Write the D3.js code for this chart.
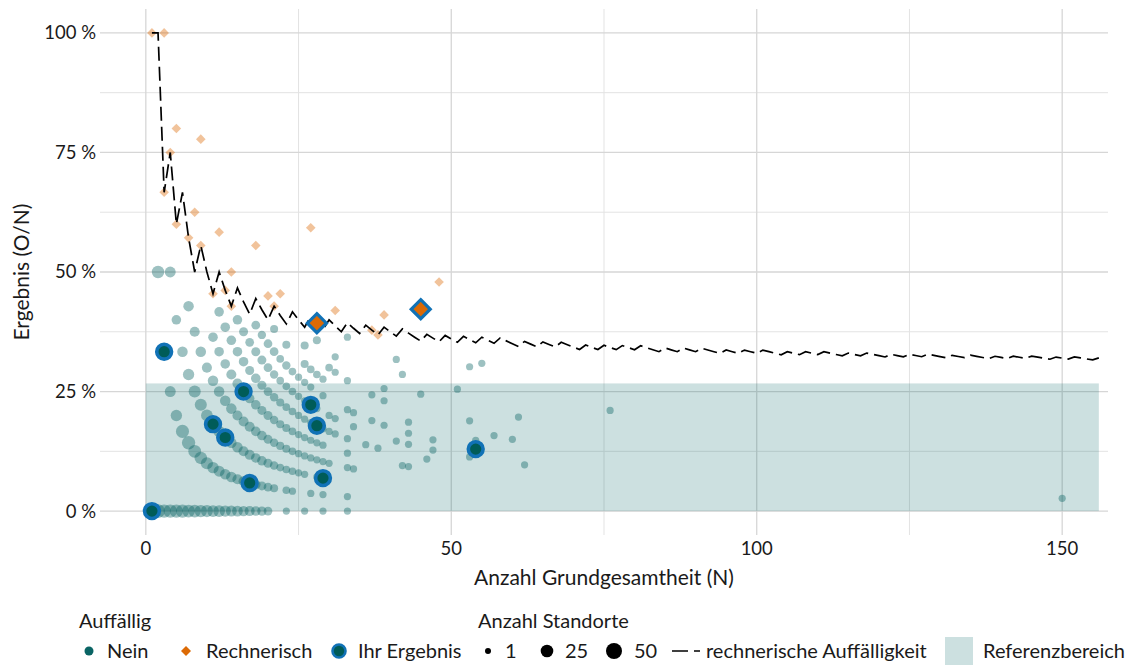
<!DOCTYPE html>
<html><head><meta charset="utf-8">
<script src="https://cdn.jsdelivr.net/npm/d3@7"></script>
<style>
html,body{margin:0;padding:0;background:#fff;}
text{font-family:Lato,"Open Sans",sans-serif;fill:#1a1a1a;}
</style></head>
<body>
<svg id="chart" width="1134" height="669"></svg>
<script>
// ---------------- DATA ----------------
// Nein (not conspicuous): [N, O, number of sites]
const neinPoints = [
 [1,0,45],
 [2,0,32],[2,1,24],
 [3,0,30],[3,1,25],
 [4,0,30],[4,1,16],[4,2,16],
 [5,0,28],[5,1,18],[5,2,10],
 [6,0,28],[6,1,28],[6,2,14],
 [7,0,26],[7,1,30],[7,2,18],[7,3,14],
 [8,0,25],[8,1,26],[8,2,22],[8,3,12],
 [9,0,24],[9,1,24],[9,2,22],[9,3,14],
 [10,0,22],[10,1,22],[10,2,20],[10,3,12],
 [11,0,20],[11,1,18],[11,2,18],[11,3,14],[11,4,10],
 [12,0,20],[12,1,16],[12,2,18],[12,3,14],[12,4,10],[12,5,10],
 [13,0,18],[13,1,14],[13,2,16],[13,3,14],[13,4,10],[13,5,10],
 [14,0,16],[14,1,14],[14,2,14],[14,3,14],[14,4,12],[14,5,10],
 [15,0,15],[15,1,12],[15,2,14],[15,3,12],[15,4,12],[15,5,10],[15,6,10],
 [16,0,13],[16,1,12],[16,2,12],[16,3,12],[16,4,12],[16,5,10],[16,6,8],
 [17,0,12],[17,1,10],[17,2,12],[17,3,12],[17,4,10],[17,5,8],[17,6,7],
 [18,0,10],[18,1,10],[18,2,10],[18,3,10],[18,4,10],[18,5,10],[18,6,8],[18,7,7],
 [19,0,9],[19,1,8],[19,2,10],[19,3,10],[19,4,8],[19,5,8],[19,6,8],[19,7,6],
 [20,0,7],[20,1,7],[20,2,8],[20,3,8],[20,4,8],[20,5,7],[20,6,7],[20,7,7],
 [21,1,5],[21,2,6],[21,3,6],[21,4,6],[21,5,6],[21,6,6],[21,7,7],[21,8,5],
 [22,2,4],[22,3,5],[22,4,5],[22,5,5],[22,6,4],[22,7,4],
 [23,0,3],[23,1,4],[23,2,4],[23,3,5],[23,4,5],[23,5,4],[23,6,4],[23,7,6],[23,8,5],
 [24,1,3],[24,2,4],[24,3,4],[24,4,4],[24,5,4],[24,6,4],[24,7,4],
 [25,2,3],[25,3,3],[25,4,3],[25,5,3],[25,6,3],[25,7,3],
 [26,0,3],[26,2,3],[26,3,3],[26,4,3],[26,5,3],[26,6,3],[26,7,3],[26,8,5],[26,9,5],
 [27,1,3],[27,3,3],[27,4,3],[27,5,3],[27,6,3],[27,7,3],[27,8,4],
 [28,2,3],[28,3,3],[28,4,3],[28,5,3],[28,6,3],[28,8,4],[28,10,5],
 [29,0,3],[29,1,3],[29,2,3],[29,3,3],[29,4,3],[29,5,3],[29,7,3],[29,8,3],
 [30,3,3],[30,5,3],[30,6,3],[30,9,4],
 [31,5,3],[31,6,3],[31,9,3],[31,10,3],
 [33,0,3],[33,1,3],[33,3,3],[33,4,3],[33,5,3],[33,7,3],[33,9,3],[33,12,3],
 [34,3,3],[34,6,3],[34,7,3],
 [36,5,3],[37,7,3],[37,9,3],[38,5,3],
 [39,7,3],[39,9,3],[39,10,3],
 [41,6,3],[41,13,3],[42,4,3],[42,12,3],
 [43,4,3],[43,6,3],[43,7,3],[43,8,3],
 [45,11,3],[46,5,3],[47,6,3],[47,7,3],
 [51,13,3],[53,6,3],[53,10,3],[53,16,3],[54,7,3],[54,8,3],[55,17,3],
 [57,9,3],[60,9,3],[61,12,3],[62,6,3],[76,16,3],[150,4,3]
];
// Rechnerisch (computationally conspicuous): [N, O]
const rechnerischPoints = [
 [1,1],[3,3],[3,2],[4,3],[5,4],[5,3],[7,4],[8,5],[9,7],[9,5],[11,5],[12,7],
 [13,6],[14,7],[14,6],[18,10],[20,9],[21,9],[22,10],[27,16],[31,13],[37,14],
 [38,14],[39,16],[48,23]
];
// Ihr Ergebnis (own results): [N, O, type]
const ownPoints = [
 [1,0,"Nein"],[3,1,"Nein"],[11,2,"Nein"],[13,2,"Nein"],[16,4,"Nein"],[17,1,"Nein"],
 [27,6,"Nein"],[28,5,"Nein"],[29,2,"Nein"],[54,7,"Nein"],
 [28,11,"Rechnerisch"],[45,19,"Rechnerisch"]
];
// Threshold line (rechnerische Auffälligkeit): N and minimal O
const lineN = d3.range(1,157);
const lineO = [1,2,2,3,3,4,4,4,5,5,5,6,6,6,7,7,7,8,8,8,9,9,9,10,10,10,11,11,11,12,12,12,13,13,13,14,14,14,15,15,15,16,16,16,16,17,17,17,18,18,18,19,19,19,20,20,20,21,21,21,21,22,22,22,23,23,23,24,24,24,24,25,25,25,26,26,26,27,27,27,28,28,28,28,29,29,29,30,30,30,31,31,31,31,32,32,32,33,33,33,34,34,34,34,35,35,35,36,36,36,37,37,37,37,38,38,38,39,39,39,39,40,40,40,41,41,41,42,42,42,42,43,43,43,44,44,44,44,45,45,45,46,46,46,47,47,47,47,48,48,48,49,49,49,49,50];
// Reference range
const refRange = {nMin:0, nMax:156, lower:0, upper:0.267};
const xTicks = [0,50,100,150];
const yTicks = [0,0.25,0.5,0.75,1];
const xMinor = [25,75,125];
const yMinor = [0.125,0.375,0.625,0.875];
const sizeLegendValues = [1,25,50];

// ---------------- STYLE ----------------
const teal = "#0a6464", tealDark = "#005c58", orange = "#dc6a05", blue = "#1172b6";
const L=100,R=1108,T=9,B=535;
const svg = d3.select("#chart");
const x = d3.scaleLinear().domain([-7.5,157.5]).range([L,R]);
const y = d3.scaleLinear().domain([-0.05,1.05]).range([B,T]);
const size = d3.scaleSqrt().domain([1,50]).range([3,8]);

// grid
const g = svg.append("g");
g.selectAll(".ym").data(yMinor).join("line").attr("x1",L).attr("x2",R)
 .attr("y1",d=>y(d)).attr("y2",d=>y(d)).attr("stroke","#e3e3e3").attr("stroke-width",1);
g.selectAll(".xm").data(xMinor).join("line").attr("y1",T).attr("y2",B)
 .attr("x1",d=>x(d)).attr("x2",d=>x(d)).attr("stroke","#e3e3e3").attr("stroke-width",1);
g.selectAll(".yM").data(yTicks).join("line").attr("x1",L).attr("x2",R)
 .attr("y1",d=>y(d)).attr("y2",d=>y(d)).attr("stroke","#d6d6d6").attr("stroke-width",1.3);
g.selectAll(".xM").data(xTicks).join("line").attr("y1",T).attr("y2",B)
 .attr("x1",d=>x(d)).attr("x2",d=>x(d)).attr("stroke","#d6d6d6").attr("stroke-width",1.3);

// reference band
svg.append("rect").attr("x",x(refRange.nMin)).attr("width",x(refRange.nMax)-x(refRange.nMin))
 .attr("y",y(refRange.upper)).attr("height",y(refRange.lower)-y(refRange.upper))
 .attr("fill","#006666").attr("fill-opacity",0.2);

// nein points
svg.append("g").selectAll("circle").data(neinPoints).join("circle")
 .attr("cx",d=>x(d[0])).attr("cy",d=>y(d[1]/d[0])).attr("r",d=>size(d[2]))
 .attr("fill",teal).attr("fill-opacity",0.4);

// rechnerisch diamonds
const diamond = (s)=>`M0,${-s}L${s},0L0,${s}L${-s},0Z`;
svg.append("g").selectAll("path").data(rechnerischPoints).join("path")
 .attr("transform",d=>`translate(${x(d[0])},${y(d[1]/d[0])})`)
 .attr("d",diamond(4.8)).attr("fill",orange).attr("fill-opacity",0.4);

// threshold line
const lineData = lineN.map((n,i)=>[n,lineO[i]/n]);
svg.append("path").datum(lineData)
 .attr("d",d3.line().x(d=>x(d[0])).y(d=>y(d[1])))
 .attr("fill","none").attr("stroke","#000").attr("stroke-width",1.7)
 .attr("stroke-dasharray","14,6");

// own results
const own = svg.append("g");
own.selectAll("circle").data(ownPoints.filter(d=>d[2]==="Nein")).join("circle")
 .attr("cx",d=>x(d[0])).attr("cy",d=>y(d[1]/d[0])).attr("r",7.4)
 .attr("fill",tealDark).attr("stroke",blue).attr("stroke-width",3.6);
own.selectAll("path").data(ownPoints.filter(d=>d[2]==="Rechnerisch")).join("path")
 .attr("transform",d=>`translate(${x(d[0])},${y(d[1]/d[0])})`)
 .attr("d",diamond(9.5)).attr("fill",orange).attr("stroke",blue).attr("stroke-width",3.2)
 .attr("stroke-linejoin","miter");

// axes labels
svg.append("g").selectAll("text").data(yTicks).join("text")
 .attr("x",96).attr("y",d=>y(d)).attr("dy","0.35em").attr("text-anchor","end")
 .style("font-size","18.5px").text(d=>`${Math.round(d*100)} %`);
svg.append("g").selectAll("text").data(xTicks).join("text")
 .attr("x",d=>x(d)).attr("y",555).attr("text-anchor","middle")
 .style("font-size","18.5px").text(d=>d);
svg.append("text").attr("x",(L+R)/2).attr("y",585).attr("text-anchor","middle")
 .style("font-size","21px").text("Anzahl Grundgesamtheit (N)");
svg.append("text").attr("transform",`translate(29,${(T+B)/2}) rotate(-90)`)
 .attr("text-anchor","middle").style("font-size","21px").text("Ergebnis (O/N)");

// legend
const lg = svg.append("g");
const ly = 651, fs = "20px";
lg.append("text").attr("x",79).attr("y",628).style("font-size",fs).text("Auffällig");
lg.append("text").attr("x",478).attr("y",628).style("font-size",fs).text("Anzahl Standorte");
lg.append("circle").attr("cx",89).attr("cy",ly).attr("r",4.5).attr("fill",teal);
lg.append("text").attr("x",107).attr("y",ly).attr("dy","0.35em").style("font-size",fs).text("Nein");
lg.append("path").attr("transform",`translate(186,${ly})`).attr("d",diamond(5)).attr("fill",orange);
lg.append("text").attr("x",206).attr("y",ly).attr("dy","0.35em").style("font-size",fs).text("Rechnerisch");
lg.append("circle").attr("cx",339).attr("cy",ly).attr("r",6.5).attr("fill",tealDark).attr("stroke",blue).attr("stroke-width",2.6);
lg.append("text").attr("x",358).attr("y",ly).attr("dy","0.35em").style("font-size",fs).text("Ihr Ergebnis");
const sizeLegendPos = [[488,505],[547,565],[614,634]];
sizeLegendValues.forEach((v,i)=>{
  const [cx,tx] = sizeLegendPos[i];
  lg.append("circle").attr("cx",cx).attr("cy",ly).attr("r",size(v)).attr("fill","#000");
  lg.append("text").attr("x",tx).attr("y",ly).attr("dy","0.35em").style("font-size",fs).text(v);
});
lg.append("line").attr("x1",672).attr("x2",700).attr("y1",ly).attr("y2",ly)
 .attr("stroke","#000").attr("stroke-width",1.7).attr("stroke-dasharray","16,6");
lg.append("text").attr("x",706).attr("y",ly).attr("dy","0.35em").style("font-size",fs).text("rechnerische Auffälligkeit");
lg.append("rect").attr("x",945).attr("y",ly-14).attr("width",28).attr("height",28)
 .attr("fill","#006666").attr("fill-opacity",0.2);
lg.append("text").attr("x",983).attr("y",ly).attr("dy","0.35em").style("font-size",fs).text("Referenzbereich");
</script>
</body></html>
